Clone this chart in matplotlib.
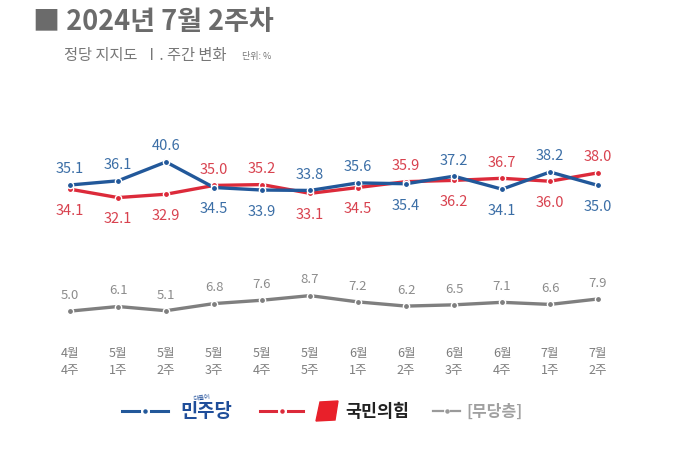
import numpy as np
import matplotlib
matplotlib.use("Agg")
import matplotlib.pyplot as plt
from matplotlib.lines import Line2D
from matplotlib.patches import Polygon

plt.rcParams["font.family"] = ["Noto Sans CJK KR", "DejaVu Sans"]

# data (weekly party support, %)
weeks = ["4월\n4주", "5월\n1주", "5월\n2주", "5월\n3주", "5월\n4주", "5월\n5주",
         "6월\n1주", "6월\n2주", "6월\n3주", "6월\n4주", "7월\n1주", "7월\n2주"]
minju = [35.1, 36.1, 40.6, 34.5, 33.9, 33.8, 35.6, 35.4, 37.2, 34.1, 38.2, 35.0]
ppp = [34.1, 32.1, 32.9, 35.0, 35.2, 33.1, 34.5, 35.9, 36.2, 36.7, 36.0, 38.0]
nonparty = [5.0, 6.1, 5.1, 6.8, 7.6, 8.7, 7.2, 6.2, 6.5, 7.1, 6.6, 7.9]

BLUE = "#22589a"
BLUE_TXT = "#3b6ea6"
RED = "#dc2a3a"
RED_TXT = "#d8424f"
GRAY = "#7f7f7f"
GRAY_TXT = "#8c8c8c"

W, H = 700, 456
fig = plt.figure(figsize=(W / 100, H / 100), dpi=100)
ax = fig.add_axes([0, 0, 1, 1])
ax.axis("off")

# pixel mapping: x = 70 + 48*i ; y = 186 - (v - 35.1)*4.19
ax.set_xlim(-70 / 48, (W - 70) / 48)
ppu = 4.19
ax.set_ylim(35.1 - (H - 186) / ppu, 35.1 + 186 / ppu)

x = np.arange(len(weeks))


def px2fig(px, py):
    return px / W, 1 - py / H


for vals, col in [(nonparty, GRAY), (ppp, RED), (minju, BLUE)]:
    ax.plot(x, vals, color=col, lw=2.4, solid_capstyle="round", zorder=2)
    ax.plot(x, vals, "o", ms=4.5, mfc=col, mec="white", mew=1.0, zorder=3)

# value labels: higher of the two parties above, lower below
for i in range(len(x)):
    if minju[i] >= ppp[i]:
        up, dn = (minju[i], BLUE_TXT), (ppp[i], RED_TXT)
    else:
        up, dn = (ppp[i], RED_TXT), (minju[i], BLUE_TXT)
    ax.annotate(f"{up[0]:.1f}", (x[i], up[0]), xytext=(0, 12), textcoords="offset points",
                ha="center", va="center", fontsize=10.5, color=up[1])
    ax.annotate(f"{dn[0]:.1f}", (x[i], dn[0]), xytext=(0, -15), textcoords="offset points",
                ha="center", va="center", fontsize=10.5, color=dn[1])
    ax.annotate(f"{nonparty[i]:.1f}", (x[i], nonparty[i]), xytext=(0, 12), textcoords="offset points",
                ha="center", va="center", fontsize=9.5, color=GRAY_TXT)

# week labels
for i, lab in enumerate(weeks):
    fx, fy = px2fig(70 + 48 * i, 362)
    fig.text(fx, fy, lab, ha="center", va="center", fontsize=9, color="#7d7d7d", linespacing=1.45)

# title
fx, fy = px2fig(33, 22)
fig.text(fx, fy, "■ 2024년 7월 2주차", ha="left", va="center", fontsize=19.5,
         fontweight="bold", color="#6b6b6b")
fx, fy = px2fig(64, 56)
fig.text(fx, fy, "정당 지지도  Ⅰ. 주간 변화", ha="left", va="center", fontsize=11,
         fontweight="medium", color="#777777")
fx, fy = px2fig(242, 57)
fig.text(fx, fy, "단위: %", ha="left", va="center", fontsize=6.5, color="#777777")

# legend
ly = 412


def leg_line(x0, x1, col, lw, gap):
    a = px2fig(x0, ly)
    b = px2fig(x1, ly)
    m0 = px2fig((x0 + x1) / 2 - gap, ly)
    m1 = px2fig((x0 + x1) / 2 + gap, ly)
    fig.add_artist(Line2D([a[0], m0[0]], [a[1], a[1]], color=col, lw=lw))
    fig.add_artist(Line2D([m1[0], b[0]], [a[1], a[1]], color=col, lw=lw))
    c = px2fig((x0 + x1) / 2, ly)
    fig.add_artist(Line2D([c[0]], [c[1]], marker="o", ms=2.2, color=col))


leg_line(122, 168, BLUE, 2.2, 6)
fx, fy = px2fig(180, ly)
fig.text(fx, fy, "민주당", ha="left", va="center", fontsize=13.5, fontweight="bold", color="#1f4e9a")
fx, fy = px2fig(193, 398)
fig.text(fx, fy, "더불어", ha="left", va="center", fontsize=4.5, color="#1f4e9a", rotation=8)

leg_line(260, 303, RED, 2.2, 6)
pts = [px2fig(*p) for p in [(320, 403), (338, 402), (335, 421), (316, 422)]]
fig.add_artist(Polygon(pts, closed=True, color="#e8202a", transform=fig.transFigure))
fx, fy = px2fig(345, ly)
fig.text(fx, fy, "국민의힘", ha="left", va="center", fontsize=12.5, fontweight="bold", color="#222222")

leg_line(433, 460, "#9a9a9a", 1.6, 4)
fx, fy = px2fig(466, ly)
fig.text(fx, fy, "[무당층]", ha="left", va="center", fontsize=11.5, fontweight="bold", color="#a0a0a0")

fig.savefig("out.png", dpi=100)
